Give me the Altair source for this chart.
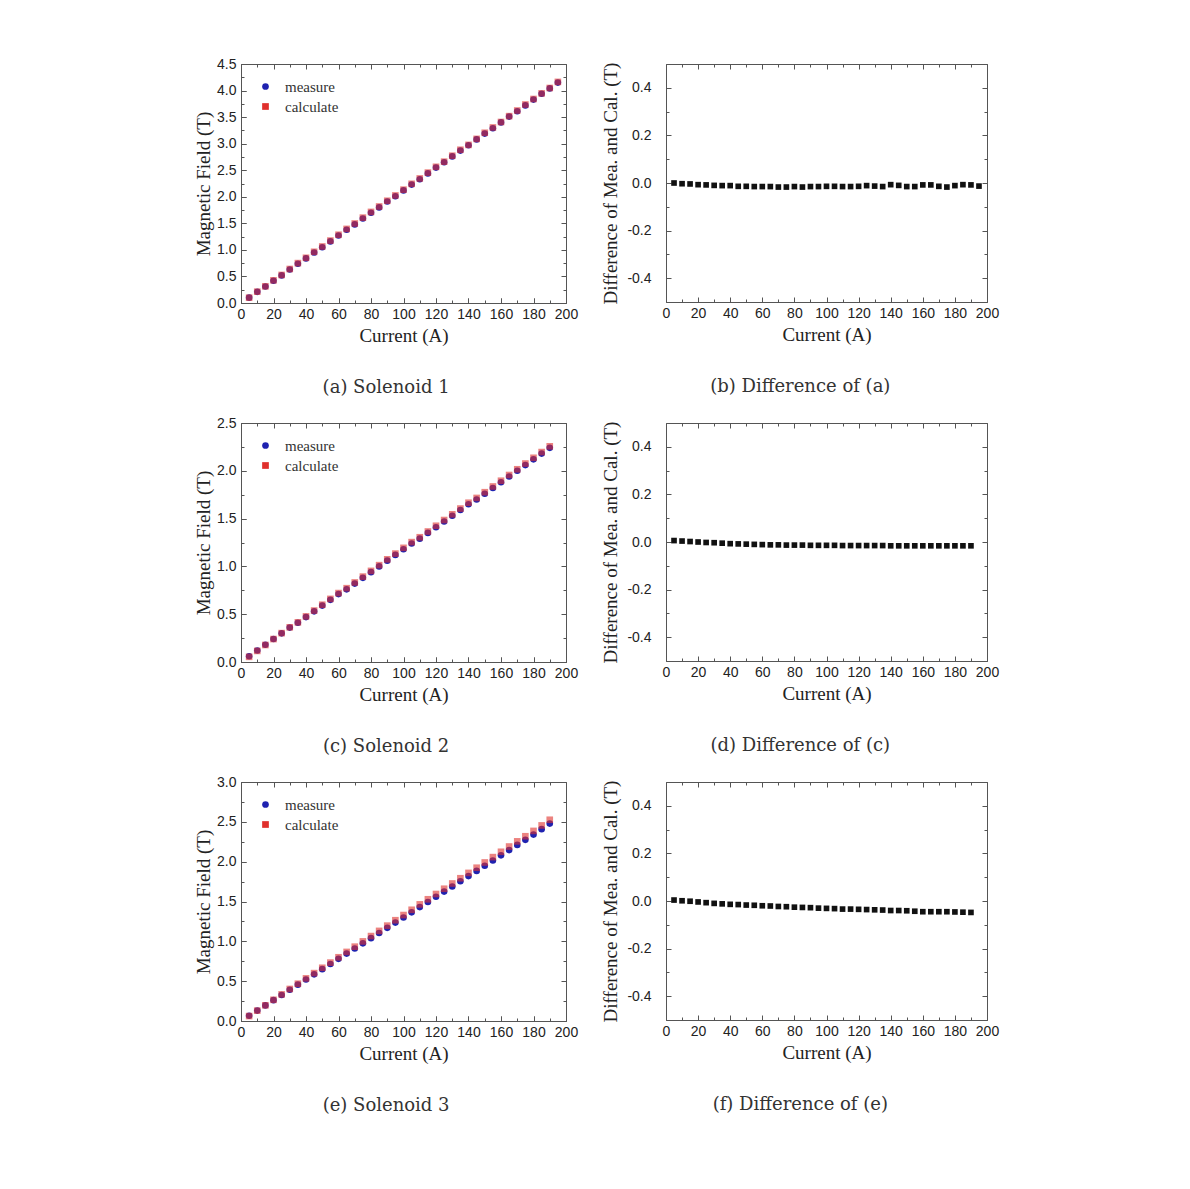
import altair as alt
import pandas as pd

# ---------------- data ----------------
current_1 = [5, 10, 15, 20, 25, 30, 35, 40, 45, 50, 55, 60, 65, 70, 75, 80, 85, 90, 95, 100,
             105, 110, 115, 120, 125, 130, 135, 140, 145, 150, 155, 160, 165, 170, 175, 180,
             185, 190, 195]
measure_1 = [0.10, 0.21, 0.31, 0.42, 0.52, 0.63, 0.74, 0.84, 0.95, 1.05, 1.16, 1.27, 1.38,
             1.48, 1.59, 1.70, 1.80, 1.91, 2.01, 2.12, 2.23, 2.33, 2.44, 2.55, 2.65, 2.76,
             2.87, 2.97, 3.08, 3.19, 3.29, 3.40, 3.51, 3.61, 3.72, 3.83, 3.94, 4.04, 4.15]
calculate_1 = [0.100, 0.213, 0.314, 0.427, 0.528, 0.640, 0.751, 0.851, 0.964, 1.064, 1.175,
               1.285, 1.395, 1.497, 1.607, 1.715, 1.817, 1.925, 2.025, 2.134, 2.244, 2.345,
               2.455, 2.564, 2.661, 2.773, 2.885, 2.977, 3.090, 3.205, 3.305, 3.408, 3.518,
               3.624, 3.737, 3.841, 3.947, 4.048, 4.163]
difference_1 = [0.000, -0.003, -0.004, -0.007, -0.008, -0.010, -0.011, -0.011, -0.014, -0.014,
                -0.015, -0.015, -0.015, -0.017, -0.017, -0.015, -0.017, -0.015, -0.015, -0.014,
                -0.014, -0.015, -0.015, -0.014, -0.011, -0.013, -0.015, -0.007, -0.010, -0.015,
                -0.015, -0.008, -0.008, -0.014, -0.017, -0.011, -0.007, -0.008, -0.013]

current_23 = [5, 10, 15, 20, 25, 30, 35, 40, 45, 50, 55, 60, 65, 70, 75, 80, 85, 90, 95, 100,
              105, 110, 115, 120, 125, 130, 135, 140, 145, 150, 155, 160, 165, 170, 175, 180,
              185, 190]
measure_2 = [0.06, 0.12, 0.18, 0.24, 0.30, 0.36, 0.41, 0.47, 0.53, 0.59, 0.65, 0.71, 0.76,
             0.82, 0.88, 0.94, 1.00, 1.06, 1.12, 1.18, 1.24, 1.29, 1.35, 1.41, 1.47, 1.53,
             1.59, 1.65, 1.70, 1.76, 1.82, 1.88, 1.94, 2.00, 2.06, 2.12, 2.18, 2.24]
calculate_2 = [0.054, 0.116, 0.178, 0.240, 0.302, 0.363, 0.415, 0.477, 0.538, 0.599, 0.660,
               0.721, 0.772, 0.832, 0.893, 0.953, 1.013, 1.074, 1.134, 1.194, 1.254, 1.305,
               1.365, 1.425, 1.485, 1.545, 1.605, 1.666, 1.716, 1.776, 1.836, 1.896, 1.956,
               2.016, 2.076, 2.136, 2.196, 2.256]
difference_2 = [0.006, 0.004, 0.002, 0.000, -0.002, -0.003, -0.005, -0.007, -0.008, -0.009,
                -0.010, -0.011, -0.012, -0.012, -0.013, -0.013, -0.013, -0.014, -0.014, -0.014,
                -0.014, -0.015, -0.015, -0.015, -0.015, -0.015, -0.015, -0.016, -0.016, -0.016,
                -0.016, -0.016, -0.016, -0.016, -0.016, -0.016, -0.016, -0.016]

measure_3 = [0.066, 0.131, 0.196, 0.262, 0.327, 0.392, 0.456, 0.521, 0.586, 0.651, 0.715,
             0.780, 0.846, 0.910, 0.975, 1.040, 1.104, 1.169, 1.235, 1.299, 1.364, 1.430,
             1.494, 1.559, 1.624, 1.689, 1.754, 1.819, 1.884, 1.949, 2.014, 2.079, 2.145,
             2.210, 2.274, 2.340, 2.408, 2.478]
calculate_3 = [0.062, 0.130, 0.197, 0.266, 0.334, 0.402, 0.468, 0.535, 0.601, 0.668, 0.733,
               0.800, 0.867, 0.933, 0.999, 1.066, 1.131, 1.197, 1.265, 1.330, 1.396, 1.464,
               1.528, 1.594, 1.660, 1.726, 1.792, 1.859, 1.924, 1.990, 2.057, 2.124, 2.190,
               2.255, 2.319, 2.386, 2.455, 2.526]
difference_3 = [0.004, 0.001, -0.001, -0.004, -0.007, -0.010, -0.012, -0.014, -0.015, -0.017,
                -0.018, -0.020, -0.021, -0.023, -0.024, -0.026, -0.027, -0.028, -0.030, -0.031,
                -0.032, -0.034, -0.034, -0.035, -0.036, -0.037, -0.038, -0.040, -0.040, -0.041,
                -0.043, -0.045, -0.045, -0.045, -0.045, -0.046, -0.047, -0.048]

series_names = ["measure", "calculate"]
captions = ["(a) Solenoid 1", "(b) Difference of (a)", "(c) Solenoid 2",
            "(d) Difference of (c)", "(e) Solenoid 3", "(f) Difference of (e)"]

x_major = [0, 20, 40, 60, 80, 100, 120, 140, 160, 180, 200]
x_minor = [10, 30, 50, 70, 90, 110, 130, 150, 170, 190]
y_major_1 = [0.0, 0.5, 1.0, 1.5, 2.0, 2.5, 3.0, 3.5, 4.0, 4.5]
y_minor_1 = [0.25, 0.75, 1.25, 1.75, 2.25, 2.75, 3.25, 3.75, 4.25]
y_major_2 = [0.0, 0.5, 1.0, 1.5, 2.0, 2.5]
y_minor_2 = [0.25, 0.75, 1.25, 1.75, 2.25]
y_major_3 = [0.0, 0.5, 1.0, 1.5, 2.0, 2.5, 3.0]
y_minor_3 = [0.25, 0.75, 1.25, 1.75, 2.25, 2.75]
d_major = [-0.4, -0.2, 0.0, 0.2, 0.4]
d_minor = [-0.5, -0.3, -0.1, 0.1, 0.3, 0.5]

# ---------------- style ----------------
FRAME = "#555555"
TEXT = "#222222"
BLUE = "#1f22b0"
RED = "#e0302c"
LABEL_FONT = "Liberation Sans"
TITLE_FONT = "Liberation Serif"
CAPTION_FONT = "DejaVu Serif"
LEFT_W, LEFT_H = 325, 239
RIGHT_W, RIGHT_H = 321, 238
MAJOR, MINOR = 5, 3
LABEL_EXPR = ("datum.value < 0 ? '-' + format(abs(datum.value), '.1f') "
              ": format(datum.value, '.1f')")


def labelled_axis(orient, values, title, label_pad, title_pad, fmt_expr=None):
    kw = dict(orient=orient, values=values, tickSize=MAJOR, offset=-MAJOR, domain=False,
              grid=False, tickColor=FRAME, tickWidth=1, labelFont=LABEL_FONT,
              labelFontSize=14, labelColor=TEXT, labelPadding=label_pad, title=title,
              titleFont=TITLE_FONT, titleFontSize=19, titleFontWeight="normal",
              titleColor=TEXT, titlePadding=title_pad, labelFlush=False, labelOverlap=False)
    if fmt_expr:
        kw["labelExpr"] = fmt_expr
    return alt.Axis(**kw)


def tick_axis(orient, values, size):
    return alt.Axis(orient=orient, values=values, tickSize=size, offset=-size, domain=False,
                    grid=False, labels=False, title=None, tickColor=FRAME, tickWidth=1)


def tick_layers(df, xf, yf, xs, ys, ymaj, ymin):
    out = []
    for xa, ya in [
        (tick_axis("bottom", x_minor, MINOR), tick_axis("left", ymin, MINOR)),
        (tick_axis("top", x_major, MAJOR), tick_axis("right", ymaj, MAJOR)),
        (tick_axis("top", x_minor, MINOR), tick_axis("right", ymin, MINOR)),
    ]:
        out.append(alt.Chart(df).mark_point(opacity=0).encode(
            x=alt.X(f"{xf}:Q", scale=xs, axis=xa),
            y=alt.Y(f"{yf}:Q", scale=ys, axis=ya)))
    return out


def caption_title(text, offset):
    return alt.TitleParams(text=text, orient="bottom", anchor="middle", frame="bounds",
                           font=CAPTION_FONT, fontSize=18, fontWeight="normal",
                           color="#333333", offset=offset)


def field_panel(cur, meas, calc, ymax, ymaj, ymin, caption):
    n = len(cur)
    df_m = pd.DataFrame({"current": cur, "field": meas, "series": [series_names[0]] * n})
    df_c = pd.DataFrame({"current": cur, "field": calc, "series": [series_names[1]] * n})
    xs = alt.Scale(domain=[0, 200], nice=False, zero=False)
    ys = alt.Scale(domain=[0, ymax], nice=False, zero=False)
    leg = alt.Legend(orient="none", legendX=17, legendY=15, title=None,
                     labelFont=TITLE_FONT, labelFontSize=15, labelColor="#333333",
                     symbolSize=45, rowPadding=4, labelOffset=12, padding=0)
    cscale = alt.Scale(domain=series_names, range=[BLUE, RED])
    sscale = alt.Scale(domain=series_names, range=["circle", "square"])

    def pts(df, opacity, with_axes):
        if with_axes:
            xa = labelled_axis("bottom", x_major, "Current (A)", 4, 5)
            ya = labelled_axis("left", ymaj, "Magnetic Field (T)", 5, 3,
                               "format(datum.value, '.1f')")
        else:
            xa = tick_axis("bottom", x_major, MAJOR)
            ya = tick_axis("left", ymaj, MAJOR)
        return alt.Chart(df).mark_point(filled=True, size=44, opacity=opacity).encode(
            x=alt.X("current:Q", scale=xs, axis=xa),
            y=alt.Y("field:Q", scale=ys, axis=ya),
            color=alt.Color("series:N", scale=cscale, legend=leg),
            shape=alt.Shape("series:N", scale=sscale, legend=leg),
        )

    layers = [pts(df_m, 1, True), pts(df_c, 0.6, False)] + \
        tick_layers(df_m, "current", "field", xs, ys, ymaj, ymin)
    return alt.layer(*layers).resolve_axis(x="independent", y="independent").properties(
        width=LEFT_W, height=LEFT_H, title=caption_title(caption, 34))


def diff_panel(cur, diff, caption):
    df = pd.DataFrame({"current": cur, "diff": diff})
    xs = alt.Scale(domain=[0, 200], nice=False, zero=False)
    ys = alt.Scale(domain=[-0.5, 0.5], nice=False, zero=False)
    pts = alt.Chart(df).mark_square(size=32, color="#111111", opacity=1).encode(
        x=alt.X("current:Q", scale=xs,
                axis=labelled_axis("bottom", x_major, "Current (A)", 4, 5)),
        y=alt.Y("diff:Q", scale=ys,
                axis=labelled_axis("left", d_major, "Difference of Mea. and Cal. (T)", 15, 6,
                                   LABEL_EXPR)),
    )
    layers = [pts] + tick_layers(df, "current", "diff", xs, ys, d_major, d_minor)
    return alt.layer(*layers).resolve_axis(x="independent", y="independent").properties(
        width=RIGHT_W, height=RIGHT_H, title=caption_title(caption, 34))


panels = [
    field_panel(current_1, measure_1, calculate_1, 4.5, y_major_1, y_minor_1, captions[0]),
    diff_panel(current_1, difference_1, captions[1]),
    field_panel(current_23, measure_2, calculate_2, 2.5, y_major_2, y_minor_2, captions[2]),
    diff_panel(current_23, difference_2, captions[3]),
    field_panel(current_23, measure_3, calculate_3, 3.0, y_major_3, y_minor_3, captions[4]),
    diff_panel(current_23, difference_3, captions[5]),
]

chart = alt.concat(
    *panels, columns=2, spacing={"row": 120, "column": 100}, bounds="flush"
).resolve_scale(
    color="independent", shape="independent"
).resolve_legend(
    color="independent", shape="independent"
).configure_view(
    stroke=FRAME, strokeWidth=1
).properties(
    padding={"left": 194, "top": 56, "right": 5, "bottom": 5}, background="white"
)

chart.save("out.html", embed_options={"renderer": "svg", "actions": False})
